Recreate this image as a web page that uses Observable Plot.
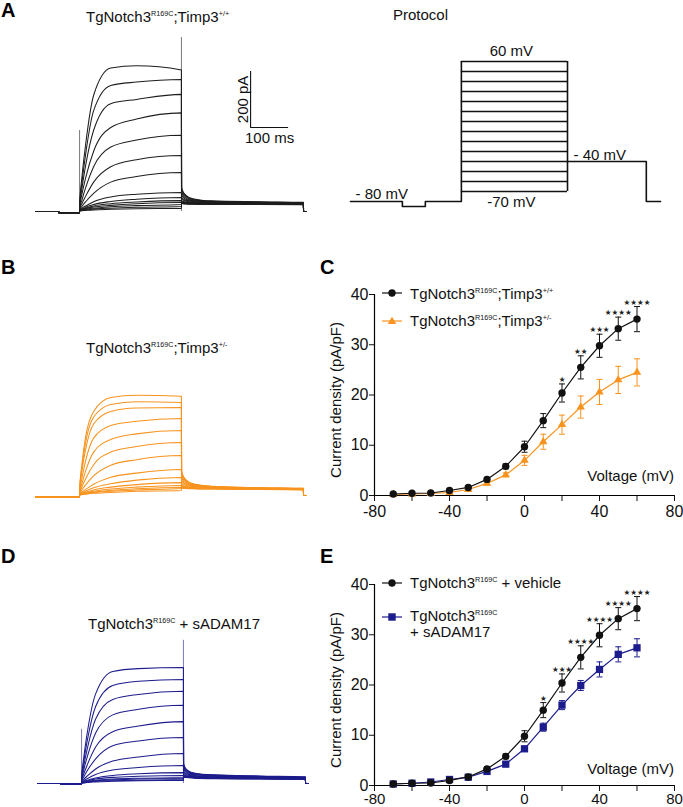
<!DOCTYPE html>
<html><head><meta charset="utf-8">
<script src="https://cdn.jsdelivr.net/npm/d3@7"></script>
<script src="https://cdn.jsdelivr.net/npm/@observablehq/plot@0.6"></script>
<style>
body{margin:0;background:#fff;}
#fig{position:relative;width:683px;height:807px;overflow:hidden;font-family:"Liberation Sans",Arial,sans-serif;background:#fff;}
</style></head><body><div id="fig"></div>
<script>
// ---------------- DATA ----------------
// I-V curves (panels C and E)
const voltages = [-70, -60, -50, -40, -30, -20, -10, 0, 10, 20, 30, 40, 50, 60];
const xTicks = [-80, -60, -40, -20, 0, 20, 40, 60, 80];
const xTickLabels = [-80, -40, 0, 40, 80];
const yTicks = [0, 10, 20, 30, 40];

const wtMean = [0.3, 0.45, 0.5, 1.0, 1.6, 3.2, 5.8, 9.7, 14.9, 20.4, 25.5, 29.8, 33.2, 35.1];
const wtErr  = [0.1, 0.1, 0.1, 0.2, 0.3, 0.4, 0.5, 1.1, 1.4, 1.8, 2.3, 2.3, 2.3, 2.5];
const hetMean = [0.2, 0.3, 0.4, 0.6, 1.2, 2.4, 4.1, 7.0, 10.7, 14.1, 17.6, 20.6, 23.0, 24.5];
const hetErr  = [0.1, 0.1, 0.1, 0.1, 0.2, 0.3, 0.4, 1.0, 1.5, 1.9, 2.2, 2.5, 2.7, 2.7];
const starsC = [0, 0, 0, 0, 0, 0, 0, 0, 0, 1, 2, 3, 4, 4];

const vehMean = [0.3, 0.45, 0.5, 1.0, 1.7, 3.3, 5.8, 9.8, 15.0, 20.4, 25.5, 29.9, 33.2, 35.2];
const vehErr  = [0.1, 0.1, 0.1, 0.2, 0.3, 0.4, 0.5, 1.1, 1.5, 1.8, 2.3, 2.3, 2.2, 2.4];
const adamMean = [0.3, 0.45, 0.7, 1.2, 1.65, 2.8, 4.25, 7.3, 11.6, 16.0, 19.9, 23.1, 26.1, 27.4];
const adamErr  = [0.1, 0.1, 0.1, 0.2, 0.2, 0.3, 0.4, 0.5, 0.8, 0.9, 1.0, 1.5, 1.5, 1.8];
const starsE = [0, 0, 0, 0, 0, 0, 0, 0, 1, 3, 4, 4, 4, 4];

// Current traces (panels A, B, D): step potentials (mV), times (ms), currents (pA)
const stepVoltages = [60, 50, 40, 30, 20, 10, 0, -10, -20, -30, -40, -50, -60, -70];
const preT = [0, 61];
const stepT = [116, 122, 132, 153, 198, 266, 384];
const tailT = [384.4, 388, 396, 414, 464, 584, 705];
const endT = [705.4, 712];

const preA = [0, -4];
const stepA = [
  [20, 120, 240, 415, 512, 520, 505],
  [18, 100, 205, 360, 450, 462, 471],
  [15, 80, 165, 290, 385, 400, 418],
  [12, 60, 120, 215, 300, 330, 352],
  [10, 40, 85, 160, 230, 255, 272],
  [8, 28, 55, 105, 160, 185, 200],
  [6, 18, 35, 65, 105, 125, 139],
  [5, 12, 20, 35, 52, 62, 68],
  [4, 9, 15, 25, 36, 44, 50],
  [3, 7, 12, 20, 28, 34, 39],
  [3, 6, 10, 16, 22, 28, 32],
  [2, 5, 8, 12, 17, 21, 25],
  [2, 4, 6, 9, 12, 15, 18],
  [1, 3, 4, 6, 8, 10, 11]
];
const tailA = [
  [86, 72, 58, 46, 38, 35, 33],
  [80, 68, 55, 44, 37, 34, 32],
  [74, 63, 52, 42, 36, 33, 31],
  [66, 57, 48, 40, 35, 32, 30],
  [58, 51, 44, 38, 34, 31, 29],
  [50, 45, 40, 36, 33, 30, 28],
  [44, 41, 37, 34, 32, 30, 28],
  [38, 36, 34, 32, 30, 29, 27],
  [35, 34, 32, 31, 29, 28, 27],
  [33, 32, 31, 30, 29, 28, 26],
  [32, 31, 30, 29, 28, 27, 26],
  [31, 30, 29, 28, 27, 26, 25],
  [30, 29, 28, 27, 26, 25, 25],
  [29, 28, 27, 26, 25, 25, 24]
];
const spikeA = [{t: 116, I: 289}, {t: 384, I: 621}];
const scaleBar = [{t: 566, I: 300, ms: 100, pA: 200}];

const preB = [-5, -5];
const stepB = [
  [15, 110, 210, 300, 350, 358, 354],
  [14, 100, 190, 280, 325, 335, 332],
  [12, 85, 165, 255, 300, 312, 314],
  [10, 60, 125, 205, 250, 265, 275],
  [8, 42, 88, 155, 200, 220, 232],
  [7, 30, 60, 110, 155, 175, 189],
  [6, 20, 38, 70, 108, 128, 143],
  [5, 13, 22, 40, 65, 80, 93],
  [4, 10, 16, 28, 42, 55, 64],
  [3, 7, 12, 20, 30, 39, 46],
  [3, 6, 10, 15, 23, 30, 36],
  [2, 5, 8, 12, 18, 24, 29],
  [2, 4, 6, 10, 15, 20, 25],
  [1, 3, 5, 8, 11, 15, 18]
];
const tailB = [
  [88, 72, 56, 42, 33, 28, 26],
  [84, 69, 54, 41, 32, 28, 26],
  [80, 66, 52, 40, 32, 27, 25],
  [72, 60, 48, 38, 31, 27, 25],
  [64, 54, 44, 36, 30, 26, 24],
  [56, 48, 40, 34, 29, 26, 24],
  [48, 42, 36, 32, 28, 25, 23],
  [40, 36, 32, 29, 27, 25, 23],
  [35, 32, 30, 28, 26, 24, 22],
  [32, 30, 28, 27, 25, 24, 22],
  [30, 29, 27, 26, 25, 23, 22],
  [29, 28, 26, 25, 24, 23, 21],
  [28, 27, 26, 25, 24, 22, 21],
  [27, 26, 25, 24, 23, 22, 21]
];

const preD = [0, -2];
const stepD = [
  [15, 95, 190, 320, 400, 410, 414],
  [13, 80, 160, 275, 350, 365, 371],
  [11, 65, 130, 230, 300, 318, 329],
  [10, 50, 100, 180, 245, 265, 279],
  [8, 35, 70, 130, 185, 205, 221],
  [7, 24, 48, 88, 135, 152, 164],
  [5, 15, 28, 52, 80, 95, 107],
  [4, 10, 18, 32, 48, 57, 64],
  [3, 7, 12, 20, 29, 35, 39],
  [3, 6, 10, 16, 22, 26, 29],
  [2, 5, 8, 12, 16, 19, 21],
  [2, 4, 6, 10, 13, 16, 18],
  [1, 3, 5, 8, 10, 12, 14],
  [1, 2, 4, 6, 8, 10, 11]
];
const tailD = [
  [72, 58, 46, 37, 31, 27, 24],
  [68, 55, 44, 36, 30, 26, 23],
  [62, 51, 42, 34, 29, 25, 22],
  [56, 47, 39, 33, 28, 24, 21],
  [50, 43, 36, 31, 27, 23, 21],
  [44, 38, 33, 29, 26, 22, 20],
  [38, 34, 30, 27, 24, 21, 19],
  [33, 30, 27, 25, 23, 20, 18],
  [30, 28, 26, 24, 22, 20, 18],
  [28, 26, 25, 23, 21, 19, 17],
  [26, 25, 24, 22, 20, 18, 16],
  [25, 24, 23, 21, 19, 17, 16],
  [24, 23, 22, 20, 18, 17, 15],
  [23, 22, 21, 19, 17, 16, 15]
];
const spikeD = [{t: 116, I: 193}, {t: 384, I: 511}];

// Voltage protocol (schematic), ms / mV
const protoHoldT = [0, 131, 131, 189, 189, 280];
const protoHoldV = [-80, -80, -85, -85, -80, -80];
const protoStepStart = 280, protoStepEnd = 548;
const protoTailT = [548, 747, 747, 783];
const protoTailV = [-40, -40, -80, -80];

// ---------------- STYLE ----------------
const FONT = '"Liberation Sans", Arial, sans-serif';
const BLACK = "#111111";
const ORANGE = "#F7931E";
const NAVY = "#1C1C8C";
const fig = document.getElementById("fig");

function place(el, left, top) {
  el.style.position = "absolute";
  el.style.left = left + "px";
  el.style.top = top + "px";
  el.style.background = "transparent";
  el.style.overflow = "visible";
  el.style.maxWidth = "none";
  fig.appendChild(el);
}

// ---------------- TRACES ----------------
function buildTraces(pre, steps, tails) {
  const rows = [];
  stepVoltages.forEach((v, i) => {
    rows.push({v, t: preT[0], I: pre[0]});
    rows.push({v, t: preT[1], I: pre[0]});
    rows.push({v, t: preT[1] + 0.3, I: pre[1]});
    rows.push({v, t: stepT[0] - 0.3, I: pre[1]});
    stepT.forEach((t, j) => rows.push({v, t, I: steps[i][j]}));
    tailT.forEach((t, j) => rows.push({v, t, I: tails[i][j]}));
    endT.forEach(t => rows.push({v, t, I: 0}));
  });
  return rows;
}

function tracePlot(rows, spikes, color, extra = []) {
  return Plot.plot({
    width: 280, height: 190,
    marginTop: 0, marginBottom: 0, marginLeft: 5, marginRight: 5,
    x: {domain: [0, 710.5]}, y: {domain: [-32, 646]},
    axis: null,
    style: {fontFamily: FONT, fontSize: "15px", background: "transparent", overflow: "visible"},
    marks: [
      Plot.line(rows, {x: "t", y: "I", z: "v", stroke: color, strokeWidth: 1.05, curve: "monotone-x"}),
      spikes ? Plot.ruleX(spikes, {x: "t", y1: 0, y2: "I", stroke: color, strokeWidth: 0.8, strokeOpacity: 0.75}) : null,
      ...extra
    ]
  });
}

const scaleMarks = [
  Plot.ruleX(scaleBar, {x: "t", y1: "I", y2: d => d.I + d.pA, stroke: BLACK, strokeWidth: 1.1}),
  Plot.ruleY(scaleBar, {y: "I", x1: "t", x2: d => d.t + d.ms, stroke: BLACK, strokeWidth: 1.1}),
  Plot.text(scaleBar, {x: "t", y: d => d.I + d.pA / 2, text: d => d.pA + " pA", rotate: -90, lineAnchor: "bottom", dx: -3, fontSize: 15, fill: BLACK}),
  Plot.text(scaleBar, {x: d => d.t + d.ms / 2, y: "I", text: d => d.ms + " ms", lineAnchor: "top", dy: 5, fontSize: 15, fill: BLACK})
];

place(tracePlot(buildTraces(preA, stepA, tailA), spikeA, "#1e1e1e", scaleMarks), 30, 30);
place(tracePlot(buildTraces(preB, stepB, tailB), null, ORANGE), 30, 314);
place(tracePlot(buildTraces(preD, stepD, tailD), spikeD, NAVY), 32, 602);

// ---------------- PROTOCOL ----------------
const protoHold = protoHoldT.map((t, i) => ({t, v: protoHoldV[i]}));
const protoTail = protoTailT.map((t, i) => ({t, v: protoTailV[i]}));
const protoMid = (protoStepStart + protoStepEnd) / 2;
const protoPlot = Plot.plot({
  width: 340, height: 175,
  marginTop: 0, marginBottom: 0, marginLeft: 10, marginRight: 13.2,
  x: {domain: [0, 800]}, y: {domain: [-100, 75]},
  axis: null,
  style: {fontFamily: FONT, fontSize: "15px", background: "transparent", overflow: "visible"},
  marks: [
    Plot.line(protoHold, {x: "t", y: "v", stroke: BLACK, strokeWidth: 1.6}),
    Plot.ruleY(stepVoltages, {y: d => d, x1: protoStepStart, x2: protoStepEnd, stroke: BLACK, strokeWidth: 1.6}),
    Plot.ruleX([protoStepStart], {x: d => d, y1: -80, y2: 60, stroke: BLACK, strokeWidth: 1.6}),
    Plot.ruleX([protoStepEnd], {x: d => d, y1: -70, y2: 60, stroke: BLACK, strokeWidth: 1.6}),
    Plot.line(protoTail, {x: "t", y: "v", stroke: BLACK, strokeWidth: 1.6}),
    Plot.text([stepVoltages[0]], {x: protoMid, y: d => d, text: d => d + " mV", lineAnchor: "bottom", dy: -6, dx: -3, fontSize: 15, fill: BLACK}),
    Plot.text([stepVoltages[stepVoltages.length - 1]], {x: protoMid, y: d => d, text: d => d + " mV", lineAnchor: "top", dy: 5, dx: -3, fontSize: 15, fill: BLACK}),
    Plot.text([protoTail[0]], {x: "t", y: "v", text: d => "- " + Math.abs(d.v) + " mV", textAnchor: "start", lineAnchor: "bottom", dx: 6, dy: -2, fontSize: 15, fill: BLACK}),
    Plot.text([protoHold[0]], {x: "t", y: "v", text: d => "- " + Math.abs(d.v) + " mV", textAnchor: "start", lineAnchor: "bottom", dx: 5, dy: -3, fontSize: 15, fill: BLACK})
  ]
});
place(protoPlot, 340, 46);

// ---------------- I-V PLOTS ----------------
const capSymbol = {draw(ctx, size) { const w = Math.sqrt(size / Math.PI); ctx.moveTo(-w, 0); ctx.lineTo(w, 0); }};

function ivPlot(series, stars, starSeries, xPad, xFont) {
  const marks = [
    Plot.ruleY([0], {stroke: "#000", strokeWidth: 1.2}),
    Plot.ruleX([-80], {stroke: "#000", strokeWidth: 1.2}),
    Plot.axisX({ticks: xTicks, tickFormat: d => xTickLabels.includes(d) ? String(d) : "", tickSize: 6, tickPadding: xPad, fontSize: xFont, label: null, fill: "#111"}),
    Plot.axisY({ticks: yTicks, tickFormat: d => String(d), tickSize: 5, tickPadding: 1, fontSize: 16, label: null, fill: "#111"})
  ];
  for (const s of series) {
    const rows = voltages.map((v, i) => ({v, m: s.mean[i], e: s.err[i]}));
    marks.push(Plot.ruleX(rows, {x: "v", y1: d => d.m - d.e, y2: d => d.m + d.e, stroke: s.color, strokeWidth: 1}));
    marks.push(Plot.dot(rows, {x: "v", y: d => d.m + d.e, symbol: capSymbol, r: 3, stroke: s.color, fill: "none", strokeWidth: 1}));
    marks.push(Plot.dot(rows, {x: "v", y: d => d.m - d.e, symbol: capSymbol, r: 3, stroke: s.color, fill: "none", strokeWidth: 1}));
    marks.push(Plot.line(rows, {x: "v", y: "m", stroke: s.color, strokeWidth: 1.2}));
    marks.push(Plot.dot(rows, {x: "v", y: "m", symbol: s.symbol, r: s.r, fill: s.color, stroke: "none"}));
  }
  const starRows = voltages.map((v, i) => ({v, top: starSeries.mean[i] + starSeries.err[i], n: stars[i]})).filter(d => d.n > 0);
  marks.push(Plot.text(starRows, {x: "v", y: "top", text: d => "★".repeat(d.n), lineAnchor: "bottom", dy: -2, fontSize: 7.5, fontFamily: "DejaVu Sans", fill: "#222"}));
  return Plot.plot({
    width: 343, height: 250,
    marginLeft: 34, marginRight: 9, marginTop: 24, marginBottom: 25,
    x: {domain: [-80, 80]}, y: {domain: [0, 40]},
    style: {fontFamily: FONT, fontSize: "15px", background: "transparent", overflow: "visible", color: "#111"},
    marks
  });
}

const seriesWT = {mean: wtMean, err: wtErr, color: BLACK, symbol: "circle", r: 3.7};
const seriesHet = {mean: hetMean, err: hetErr, color: ORANGE, symbol: "triangle", r: 3.1};
const seriesVeh = {mean: vehMean, err: vehErr, color: BLACK, symbol: "circle", r: 3.7};
const seriesAdam = {mean: adamMean, err: adamErr, color: NAVY, symbol: "square", r: 4.1};

place(ivPlot([seriesHet, seriesWT], starsC, seriesWT, 4, 16), 340, 270);
place(ivPlot([seriesAdam, seriesVeh], starsE, seriesVeh, 2, 15), 340, 560);

// ---------------- TEXT OVERLAY (titles, letters, labels, legends) ----------------
const ov = d3.create("svg").attr("width", 683).attr("height", 807)
  .style("font-family", FONT).style("pointer-events", "none");

function rich(x, y, parts, opts = {}) {
  const t = ov.append("text").attr("x", x).attr("y", y).attr("font-size", opts.size || 15)
    .attr("fill", opts.fill || "#111").attr("text-anchor", opts.anchor || "start");
  if (opts.weight) t.attr("font-weight", opts.weight);
  if (opts.transform) t.attr("transform", opts.transform).attr("x", 0).attr("y", 0);
  let up = false;
  for (const p of parts) {
    const isSup = typeof p === "object";
    const s = t.append("tspan").text(isSup ? p.sup : p);
    if (isSup) { s.attr("font-size", 7.2).attr("dy", up ? 0 : -5.7); up = true; }
    else { s.attr("dy", up ? 5.7 : 0); up = false; }
  }
  return t;
}

// panel letters
[["A", 1, 17], ["B", 1, 274], ["C", 320, 274], ["D", 1, 563], ["E", 320, 563]].forEach(([l, x, y]) =>
  rich(x, y, [l], {size: 20, weight: "bold", fill: "#000"}));

// titles
rich(86, 22, ["TgNotch3", {sup: "R169C"}, ";Timp3", {sup: "+/+"}]);
rich(393, 20, ["Protocol"]);
rich(86, 353, ["TgNotch3", {sup: "R169C"}, ";Timp3", {sup: "+/-"}]);
rich(88, 629, ["TgNotch3", {sup: "R169C"}, " + sADAM17"]);

// axis labels
rich(0, 0, ["Current density (pA/pF)"], {anchor: "middle", transform: "translate(341,400) rotate(-90)"});
rich(0, 0, ["Current density (pA/pF)"], {anchor: "middle", transform: "translate(341,690) rotate(-90)"});
rich(674, 480.5, ["Voltage (mV)"], {anchor: "end"});
rich(674, 774, ["Voltage (mV)"], {anchor: "end"});

// legend swatches
function swatch(y, color, shape) {
  ov.append("line").attr("x1", 382).attr("x2", 402).attr("y1", y).attr("y2", y).attr("stroke", color).attr("stroke-width", 1.2);
  if (shape === "circle") ov.append("circle").attr("cx", 392).attr("cy", y).attr("r", 3.7).attr("fill", color);
  if (shape === "triangle") ov.append("path").attr("d", `M392,${y - 4.3}L396.3,${y + 3}L387.7,${y + 3}Z`).attr("fill", color);
  if (shape === "square") ov.append("rect").attr("x", 388.3).attr("y", y - 3.7).attr("width", 7.4).attr("height", 7.4).attr("fill", color);
}
swatch(293, BLACK, "circle");
rich(410, 298.5, ["TgNotch3", {sup: "R169C"}, ";Timp3", {sup: "+/+"}]);
swatch(321, ORANGE, "triangle");
rich(410, 326, ["TgNotch3", {sup: "R169C"}, ";Timp3", {sup: "+/-"}]);

swatch(583, BLACK, "circle");
rich(410, 588, ["TgNotch3", {sup: "R169C"}, " + vehicle"]);
swatch(617, NAVY, "square");
rich(410, 621, ["TgNotch3", {sup: "R169C"}]);
rich(410, 637, ["+ sADAM17"]);

const ovNode = ov.node();
ovNode.style.position = "absolute";
ovNode.style.left = "0px";
ovNode.style.top = "0px";
fig.appendChild(ovNode);
</script>
</body></html>
